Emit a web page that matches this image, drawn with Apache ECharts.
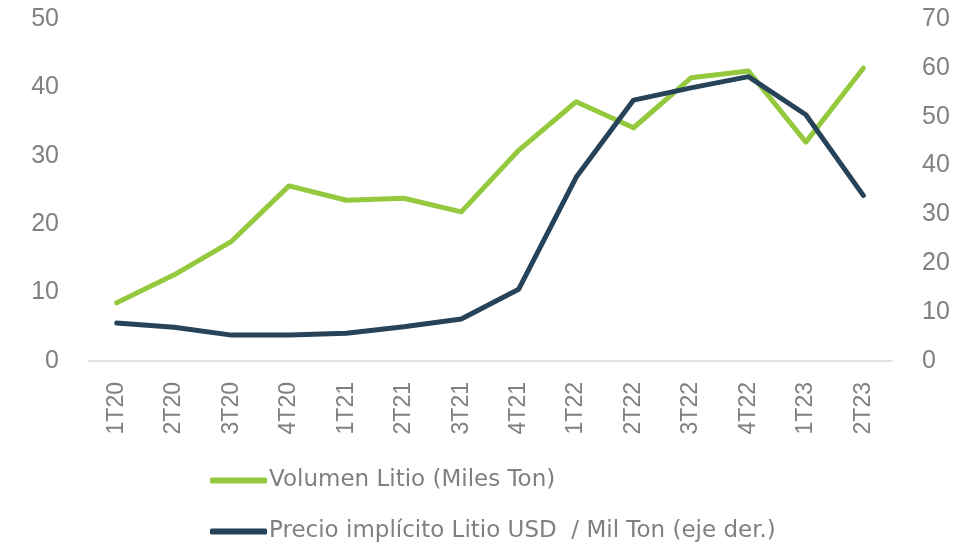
<!DOCTYPE html>
<html>
<head>
<meta charset="utf-8">
<script src="https://cdn.jsdelivr.net/npm/echarts@6/dist/echarts.min.js"></script>
<style>
  html, body { margin: 0; padding: 0; background: #fff; }
  #chart { width: 968px; height: 545px; }
</style>
</head>
<body>
<div id="chart"></div>
<script>
// trimestres
const quarters = ['1T20', '2T20', '3T20', '4T20', '1T21', '2T21', '3T21', '4T21', '1T22', '2T22', '3T22', '4T22', '1T23', '2T23']
// volumen (miles ton) - eje izq.
const volumen = [8.5, 12.6, 17.5, 25.6, 23.5, 23.8, 21.8, 30.8, 37.9, 34.1, 41.4, 42.4, 32.0, 42.8]
// precio implicito USD / mil ton - eje der.
const precio = [7.8, 6.9, 5.3, 5.3, 5.7, 7.0, 8.6, 14.7, 37.6, 53.4, 55.9, 58.2, 50.4, 33.9]

const volName = 'Volumen Litio (Miles Ton)'
const preName = 'Precio implícito Litio USD  / Mil Ton (eje der.)'

const gray = '#808080'
const axisFont = '"Liberation Sans", Arial, sans-serif'
const legendFont = '"DejaVu Sans", sans-serif'

// una leyenda por fila
const legendItem = (name, top) => ({
  orient: 'vertical',
  left: 205,
  top: top,
  itemWidth: 57,
  itemHeight: 6,
  icon: 'roundRect',
  textStyle: { color: gray, fontSize: 23, fontFamily: legendFont, padding: [0, 0, 0, -3] },
  data: [name],
})

const chart = echarts.init(document.getElementById('chart'))
chart.setOption({
  animation: false,
  grid: { left: 88, right: 76, top: 19, bottom: 184, containLabel: false },
  legend: [legendItem(volName, 464), legendItem(preName, 515)],
  xAxis: {
    type: 'category',
    data: quarters,
    boundaryGap: true,
    axisLine: { lineStyle: { color: '#d9d9d9', width: 1.5 } },
    axisTick: { show: false },
    axisLabel: { rotate: 90, margin: 21, color: gray, fontSize: 23, fontFamily: axisFont },
  },
  yAxis: [{
    type: 'value',
    min: 0,
    max: 50,
    interval: 10,
    splitLine: { show: false },
    axisLine: { show: false },
    axisTick: { show: false },
    axisLabel: { margin: 29, color: gray, fontSize: 25, fontFamily: axisFont },
  }, {
    type: 'value',
    min: 0,
    max: 70,
    interval: 10,
    splitLine: { show: false },
    axisLine: { show: false },
    axisTick: { show: false },
    axisLabel: { margin: 30, color: gray, fontSize: 25, fontFamily: axisFont },
  }],
  series: [{
    name: volName,
    type: 'line',
    data: volumen,
    symbol: 'none',
    color: '#95c93d',
    lineStyle: { width: 5, cap: 'round', join: 'round' },
  }, {
    name: preName,
    type: 'line',
    yAxisIndex: 1,
    data: precio,
    symbol: 'none',
    color: '#26435a',
    lineStyle: { width: 5, cap: 'round', join: 'round' },
  }],
})
</script>
</body>
</html>
